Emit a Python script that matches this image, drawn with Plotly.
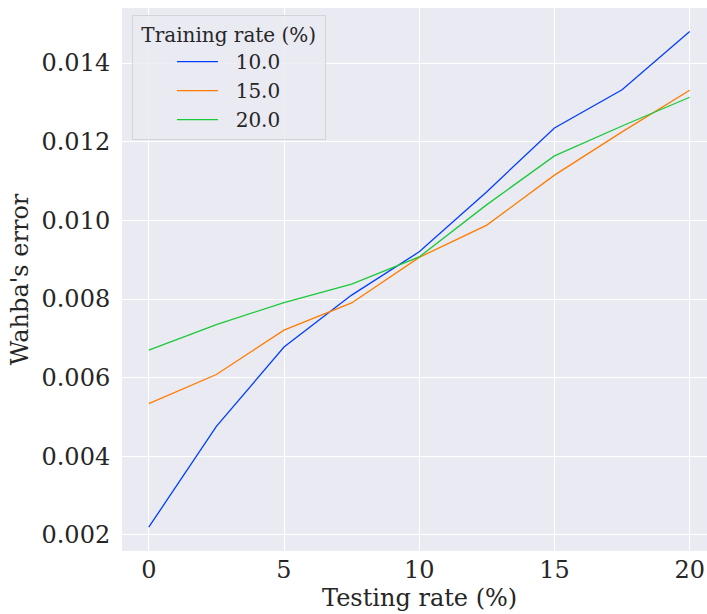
import plotly.graph_objects as go

# Testing rate (%) on the x axis
testing_rate = [0, 2.5, 5, 7.5, 10, 12.5, 15, 17.5, 20]

# Wahba's error for each training rate
err_train_10 = [0.00220, 0.00476, 0.00678, 0.00810, 0.00920, 0.01073, 0.01235, 0.01332, 0.01480]
err_train_15 = [0.00534, 0.00608, 0.00721, 0.00790, 0.00906, 0.00988, 0.01115, 0.01225, 0.01331]
err_train_20 = [0.00670, 0.00735, 0.00791, 0.00838, 0.00907, 0.01040, 0.01164, 0.01240, 0.01313]

series_names = ["10.0", "15.0", "20.0"]
series_colors = ["#023eff", "#ff7c00", "#1ac938"]
y_ticks = [0.002, 0.004, 0.006, 0.008, 0.010, 0.012, 0.014]
x_ticks = [0, 5, 10, 15, 20]

FONT = "DejaVu Serif"
TXT = "#262626"
NBSP = "\u00a0"

fig = go.Figure()
for name, ys, col in zip(series_names, [err_train_10, err_train_15, err_train_20], series_colors):
    fig.add_trace(go.Scatter(
        x=testing_rate, y=ys, mode="lines", name=NBSP * 2 + name,
        line=dict(color=col, width=1.3),
    ))

fig.update_layout(
    width=707, height=614,
    margin=dict(l=122, r=0, t=8, b=63),
    paper_bgcolor="white",
    plot_bgcolor="#eaeaf2",
    font=dict(family=FONT, color=TXT, size=24),
    showlegend=True,
    legend=dict(
        title=dict(text=NBSP + "Training rate (%)" + NBSP,
                   font=dict(size=20, family=FONT, color=TXT)),
        font=dict(size=20, family=FONT, color=TXT),
        x=0.017, y=0.987, xanchor="left", yanchor="top",
        bgcolor="rgba(234,234,242,0.8)",
        bordercolor="#d3d3da", borderwidth=1,
        itemwidth=41,
        indentation=39,
    ),
    annotations=[dict(
        text="Testing rate (%)", xref="x", x=10, yref="paper", y=-0.116,
        xanchor="center", yanchor="bottom", showarrow=False,
        font=dict(size=24, family=FONT, color=TXT),
    )],
)

fig.update_xaxes(
    range=[-0.99, 20.64],
    tickvals=x_ticks, ticktext=[str(v) for v in x_ticks],
    showgrid=True, gridcolor="white", gridwidth=1,
    zeroline=False, showline=False,
    ticks="", ticklabelstandoff=2,
    tickfont=dict(size=24, family=FONT, color=TXT),
)
fig.update_yaxes(
    range=[0.001593, 0.0154],
    tickvals=y_ticks, ticktext=[f"{v:.3f}" for v in y_ticks],
    showgrid=True, gridcolor="white", gridwidth=1,
    zeroline=False, showline=False,
    ticks="outside", ticklen=6, tickcolor="rgba(0,0,0,0)",
    tickfont=dict(size=24, family=FONT, color=TXT),
    title=dict(text="Wahba's error", font=dict(size=24, family=FONT, color=TXT), standoff=6),
)

fig.write_html("out.html")
